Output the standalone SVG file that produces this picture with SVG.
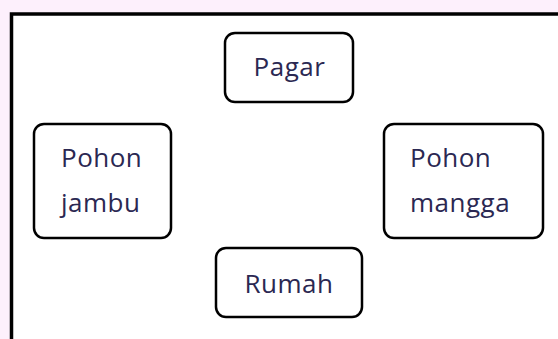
<svg xmlns="http://www.w3.org/2000/svg" width="558" height="339" viewBox="0 0 558 339">
<style>
.box{fill:#ffffff;stroke:#000000;stroke-width:2.5}
.t{font-family:"Open Sans","Noto Sans",sans-serif;font-size:26px;letter-spacing:0.5px;fill:#2b2852}
</style>
<rect x="0" y="0" width="558" height="339" fill="#fdf0fc"/>
<rect x="11.5" y="14" width="560" height="340" fill="#ffffff" stroke="#000000" stroke-width="3.5"/>
<g id="connectors"></g>
<g id="pagar">
<rect class="box" x="225" y="33" width="128" height="69" rx="10"/>
<text class="t" x="289.5" y="76" text-anchor="middle">Pagar</text>
</g>
<g id="pohon-jambu">
<rect class="box" x="34" y="124" width="137" height="114" rx="10"/>
<text class="t" x="61" y="167">Pohon</text>
<text class="t" x="61" y="212">jambu</text>
</g>
<g id="pohon-mangga">
<rect class="box" x="384" y="124" width="159" height="114" rx="10"/>
<text class="t" x="410" y="167">Pohon</text>
<text class="t" x="410" y="212">mangga</text>
</g>
<g id="rumah">
<rect class="box" x="216" y="248" width="146" height="69" rx="10"/>
<text class="t" x="289" y="293" text-anchor="middle">Rumah</text>
</g>
</svg>
